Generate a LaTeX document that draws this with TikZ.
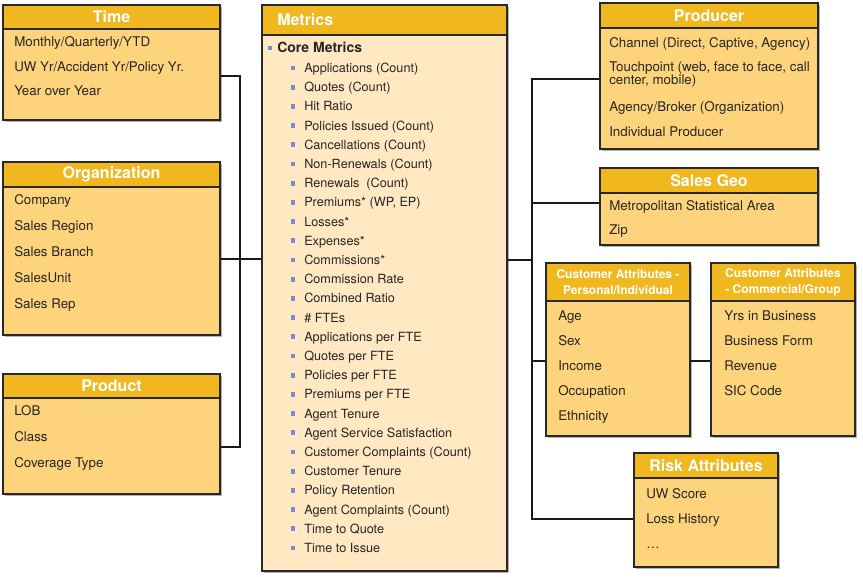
\documentclass[tikz,border=0pt]{standalone}
\usepackage{fontspec}
\setmainfont{TeX Gyre Heros}
\usetikzlibrary{fit,shadows}
\definecolor{hdrc}{RGB}{240,183,30}
\definecolor{bodyc}{RGB}{253,211,123}
\definecolor{metc}{RGB}{255,232,194}
\definecolor{frm}{RGB}{40,40,40}
\definecolor{txt}{RGB}{38,38,38}
\definecolor{bulc}{RGB}{112,144,204}
\tikzset{
  bx/.style={rectangle,draw=frm,fill=bodyc,line width=1.1pt,inner sep=0pt,
    drop shadow={shadow xshift=1.6pt,shadow yshift=-1.6pt,fill=black,opacity=.3}},
  mbx/.style={bx,fill=metc},
  hd/.style={rectangle,draw=frm,fill=hdrc,line width=1.1pt,inner sep=0pt},
  ht/.style={inner sep=0pt,text=white,font=\fontsize{12}{14}\selectfont\bfseries},
  hts/.style={ht,align=center,font=\fontsize{9}{12}\selectfont\bfseries},
  it/.style={anchor=west,inner sep=0pt,text=txt,font=\fontsize{10}{9.8}\selectfont,
    text height=7.2pt,text depth=0pt},
  it2/.style={anchor=north west,inner sep=0pt,text=txt,font=\fontsize{10}{9.8}\selectfont,align=left},
  mi/.style={it,font=\fontsize{9.5}{11}\selectfont,text height=6.8pt},
  bul/.style={rectangle,fill=bulc,minimum size=3.6pt,inner sep=0pt},
  lnk/.style={draw=black!90,line width=1.3pt},
}
\begin{document}
\begin{tikzpicture}[x=0.75pt,y=-0.75pt]
\useasboundingbox (0,0) rectangle (863,577);
% ---- left column
\node[bx,fit={(3,5)(220,120)}] (time) {};
\node[hd,fit={(3,5)(220,29)}] (timeh) {};
\node[ht] (timet) at (timeh) {Time};
\foreach \t [count=\i] in {{Monthly/Quarterly/YTD},{UW Yr/Accident Yr/Policy Yr.},{Year over Year}}
  \node[it] (time\i) at (14,{42+24.5*(\i-1)}) {\t};
\node[bx,fit={(3,162)(220,335)}] (org) {};
\node[hd,fit={(3,162)(220,187)}] (orgh) {};
\node[ht] (orgt) at (orgh) {Organization};
\foreach \t [count=\i] in {Company,Sales Region,Sales Branch,SalesUnit,Sales Rep}
  \node[it] (org\i) at (14,{200+26*(\i-1)}) {\t};
\node[bx,fit={(3,374)(220,494)}] (product) {};
\node[hd,fit={(3,374)(220,398)}] (producth) {};
\node[ht] (productt) at (producth) {Product};
\foreach \t [count=\i] in {LOB,Class,Coverage Type}
  \node[it] (product\i) at (14,{411+26*(\i-1)}) {\t};
% ---- metrics
\node[mbx,fit={(262,5)(507,571)}] (metrics) {};
\node[hd,fit={(262,5)(507,35)}] (metricsh) {};
\node[ht,anchor=west] (metricst) at (277,20) {Metrics};
\node[bul] (coreb) at (270,48) {};
\node[it,font=\fontsize{10.5}{12}\selectfont\bfseries] (core) at (277,48) {Core Metrics};
\foreach \t [count=\i] in {Applications (Count),Quotes (Count),Hit Ratio,Policies Issued (Count),
    Cancellations (Count),Non-Renewals (Count),Renewals~ (Count),{Premiums* (WP, EP)},Losses*,
    Expenses*,Commissions*,Commission Rate,Combined Ratio,\# FTEs,Applications per FTE,
    Quotes per FTE,Policies per FTE,Premiums per FTE,Agent Tenure,Agent Service Satisfaction,
    Customer Complaints (Count),Customer Tenure,Policy Retention,Agent Complaints (Count),
    Time to Quote,Time to Issue}{
  \node[bul] (mb\i) at (293,{68+19.2*(\i-1)}) {};
  \node[mi] (m\i) at (304,{68+19.2*(\i-1)}) {\t};
}
% ---- right column
\node[bx,fit={(600,3)(818,149)}] (producer) {};
\node[hd,fit={(600,3)(818,28)}] (producerh) {};
\node[ht] (producert) at (producerh) {Producer};
\node[it] (producer1) at (609,43) {Channel (Direct, Captive, Agency)};
\node[it2] (producer2) at (609,61) {Touchpoint (web, face to face, call\\center, mobile)};
\node[it] (producer3) at (609,107) {Agency/Broker (Organization)};
\node[it] (producer4) at (609,132) {Individual Producer};
\node[bx,fit={(600,168)(818,245)}] (geo) {};
\node[hd,fit={(600,168)(818,193)}] (geoh) {};
\node[ht] (geot) at (geoh) {Sales Geo};
\node[it] (geo1) at (609,206) {Metropolitan Statistical Area};
\node[it] (geo2) at (609,230) {Zip};
\node[bx,fit={(546,263)(690,436)}] (cpers) {};
\node[hd,fit={(546,263)(690,301)}] (cpersh) {};
\node[hts] (cperst) at (cpersh) {Customer Attributes -\\Personal/Individual};
\foreach \t [count=\i] in {Age,Sex,Income,Occupation,Ethnicity}
  \node[it] (cpers\i) at (558,{316+25*(\i-1)}) {\t};
\node[bx,fit={(711,263)(855,436)}] (ccomm) {};
\node[hd,fit={(711,263)(855,301)}] (ccommh) {};
\node[hts] (ccommt) at (ccommh) {Customer Attributes\\- Commercial/Group};
\foreach \t [count=\i] in {Yrs in Business,Business Form,Revenue,SIC Code}
  \node[it] (ccomm\i) at (724,{316+25*(\i-1)}) {\t};
\node[bx,fit={(634,453)(778,567)}] (risk) {};
\node[hd,fit={(634,453)(778,478)}] (riskh) {};
\node[ht] (riskt) at (riskh) {Risk Attributes};
\foreach \t [count=\i] in {UW Score,Loss History,\dots}
  \node[it] (risk\i) at (646,{494+25*(\i-1)}) {\t};
% ---- connectors
\coordinate (lt) at (240,76); \coordinate (lo) at (240,259); \coordinate (lp) at (240,447);
\draw[lnk] (time.east |- lt) -- (lt) -- (lp) -- (product.east |- lp);
\draw[lnk] (org.east |- lo) -- (metrics.west |- lo);
\coordinate (rt) at (532,79); \coordinate (rg) at (532,203); \coordinate (rm) at (532,260);
\coordinate (rc) at (532,361); \coordinate (rb) at (532,519);
\draw[lnk] (producer.west |- rt) -- (rt) -- (rb) -- (risk.west |- rb);
\draw[lnk] (metrics.east |- rm) -- (rm);
\draw[lnk] (rg) -- (geo.west |- rg);
\draw[lnk] (rc) -- (cpers.west |- rc);
\draw[lnk] (cpers.east |- rc) -- (ccomm.west |- rc);
\end{tikzpicture}
\end{document}
